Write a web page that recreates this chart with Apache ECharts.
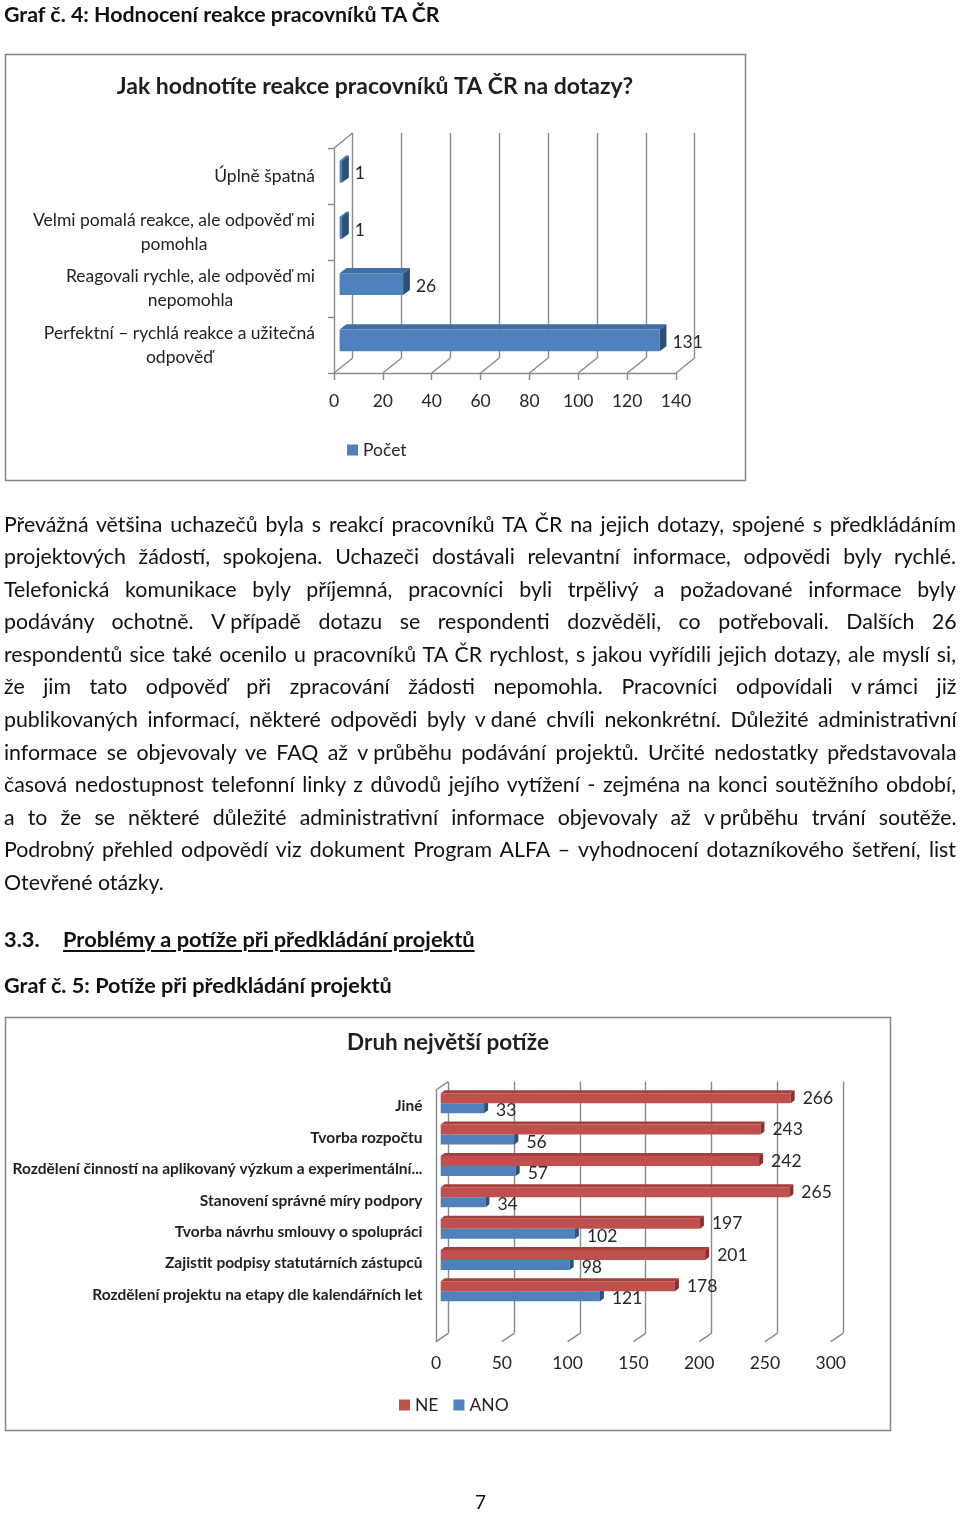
<!DOCTYPE html>
<html><head><meta charset="utf-8">
<script src="https://cdn.jsdelivr.net/npm/echarts@6/dist/echarts.min.js"></script>
<style>
html,body{margin:0;padding:0;background:#fff;}
body{width:960px;height:1513px;position:relative;overflow:hidden;font-family:Lato,"Noto Sans",sans-serif;color:#111;}
#chart{position:absolute;left:0;top:0;width:960px;height:1513px;}
.t{position:absolute;white-space:nowrap;line-height:24px;font-size:19px;}
.b{font-weight:bold;}
.u{text-decoration:underline;text-decoration-thickness:2px;text-underline-offset:3px;}
#para{position:absolute;left:4px;top:507.7px;width:952px;font-size:19px;}
.ln{height:32.55px;line-height:32.55px;white-space:nowrap;}
.nb{word-spacing:0 !important;}
</style>
</head><body>
<div id="chart"></div>
<div class="t b" id="h1" style="left:4px;top:2px;">Graf č. 4: Hodnocení reakce pracovníků TA ČR</div>
<div id="para">
<div class="ln"><span class="s">Převážná většina uchazečů byla s reakcí pracovníků TA ČR na jejich dotazy, spojené s předkládáním</span></div>
<div class="ln"><span class="s">projektových žádostí, spokojena. Uchazeči dostávali relevantní informace, odpovědi byly rychlé.</span></div>
<div class="ln"><span class="s">Telefonická komunikace byly příjemná, pracovníci byli trpělivý a požadované informace byly</span></div>
<div class="ln"><span class="s">podávány ochotně. <span class="nb">V&nbsp;případě</span> dotazu se respondenti dozvěděli, co potřebovali. Dalších 26</span></div>
<div class="ln"><span class="s">respondentů sice také ocenilo u pracovníků TA ČR rychlost, s jakou vyřídili jejich dotazy, ale myslí si,</span></div>
<div class="ln"><span class="s">že jim tato odpověď při zpracování žádosti nepomohla. Pracovníci odpovídali <span class="nb">v&nbsp;rámci</span> již</span></div>
<div class="ln"><span class="s">publikovaných informací, některé odpovědi byly <span class="nb">v&nbsp;dané</span> chvíli nekonkrétní. Důležité administrativní</span></div>
<div class="ln"><span class="s">informace se objevovaly ve FAQ až <span class="nb">v&nbsp;průběhu</span> podávání projektů. Určité nedostatky představovala</span></div>
<div class="ln"><span class="s">časová nedostupnost telefonní linky z důvodů jejího vytížení - zejména na konci soutěžního období,</span></div>
<div class="ln"><span class="s">a to že se některé důležité administrativní informace objevovaly až <span class="nb">v&nbsp;průběhu</span> trvání soutěže.</span></div>
<div class="ln"><span class="s">Podrobný přehled odpovědí viz dokument Program ALFA – vyhodnocení dotazníkového šetření, list</span></div>
<div class="ln"><span class="s" id="lastLine">Otevřené otázky.</span></div>
</div>
<div class="t b" id="h33" style="left:4px;top:927px;">3.3.</div>
<div class="t b u" id="h33t" style="left:63px;top:927px;">Problémy a potíže při předkládání projektů</div>
<div class="t b" id="h5" style="left:4px;top:973px;">Graf č. 5: Potíže při předkládání projektů</div>
<div class="t" style="left:475px;top:1490px;">7</div>
<script>
// ---------------- data ----------------
const chart1Title = 'Jak hodnotíte reakce pracovníků TA ČR na dotazy?';
const chart1Categories = [
  'Perfektní – rychlá reakce a užitečná odpověď',
  'Reagovali rychle, ale odpověď mi nepomohla',
  'Velmi pomalá reakce, ale odpověď mi pomohla',
  'Úplně špatná'
];
const chart1Values = [131, 26, 1, 1];
const chart1Ticks = [0, 20, 40, 60, 80, 100, 120, 140];
const chart1SeriesName = 'Počet';

const chart2Title = 'Druh největší potíže';
const chart2Categories = [
  'Rozdělení projektu na etapy dle kalendářních let',
  'Zajistit podpisy statutárních zástupců',
  'Tvorba návrhu smlouvy o spolupráci',
  'Stanovení správné míry podpory',
  'Rozdělení činností na aplikovaný výzkum a experimentální...',
  'Tvorba rozpočtu',
  'Jiné'
];
const chart2NE = [178, 201, 197, 265, 242, 243, 266];
const chart2ANO = [121, 98, 102, 34, 57, 56, 33];
const chart2Ticks = [0, 50, 100, 150, 200, 250, 300];

// ---------------- text layout ----------------
function fitWidth(el, target) {
  const w = el.getBoundingClientRect().width;
  const fs = parseFloat(getComputedStyle(el).fontSize);
  el.style.fontSize = (fs * target / w) + 'px';
}
fitWidth(document.getElementById('h1'), 436);
fitWidth(document.getElementById('h33t'), 412);
fitWidth(document.getElementById('h5'), 388);
document.getElementById('h33').style.fontSize = document.getElementById('h33t').style.fontSize;
(function () {
  const para = document.getElementById('para');
  const last = document.getElementById('lastLine');
  let fs = 19 * 160 / last.getBoundingClientRect().width;
  para.style.fontSize = fs + 'px';
  const spans = Array.from(para.querySelectorAll('span.s'));
  let maxW = Math.max(...spans.map(s => s.getBoundingClientRect().width));
  if (maxW > 946) { fs = fs * 946 / maxW; para.style.fontSize = fs + 'px'; }
  spans.forEach((s, i) => {
    if (i === spans.length - 1) return;
    const w = s.getBoundingClientRect().width;
    const n = (s.textContent.match(/ /g) || []).length;
    if (n > 0) s.style.wordSpacing = ((952 - w) / n) + 'px';
  });
})();

// ---------------- chart ----------------
const FONT = 'Lato, "Noto Sans", sans-serif';
const GRID_C = '#8a8a8a';
const TXT = '#262626';
const LW = 1.4;

function wrapText(s, maxChars) {
  const words = s.split(' '); const lines = []; let cur = '';
  for (const w of words) {
    const t = cur ? cur + ' ' + w : w;
    if (t.length > maxChars && cur) { lines.push(cur); cur = w; } else cur = t;
  }
  if (cur) lines.push(cur);
  return lines;
}

function frameItem(depth) {
  return function (params, api) {
    const v = api.value(0);
    const p = api.coord([v, 0]);
    const st = { stroke: GRID_C, lineWidth: LW };
    const children = [{ type: 'line', shape: { x1: p[0], y1: p[1], x2: p[0] + depth[0], y2: p[1] + depth[1] }, style: st }];
    if (params.dataIndex === 0) {
      const q = api.coord([v, 1]);
      children.push({ type: 'line', shape: { x1: q[0], y1: q[1], x2: q[0] + depth[0], y2: q[1] + depth[1] }, style: st });
    }
    return { type: 'group', children };
  };
}

function barItem(cfg) {
  return function (params, api) {
    const v = api.value(0), ci = api.value(1);
    const p0 = api.coord([0, ci]);
    const p1 = api.coord([v, ci]);
    const band = api.size([0, 1])[1];
    const h = band * cfg.hRatio;
    const x0 = p0[0] + cfg.front[0], x1 = p1[0] + cfg.front[0];
    const cy = p0[1] + cfg.front[1];
    let yT, yB;
    if (cfg.slot < 0) { yT = cy - h; yB = cy; }
    else if (cfg.slot > 0) { yT = cy; yB = cy + h; }
    else { yT = cy - h / 2; yB = cy + h / 2; }
    const tx = cfg.top[0], ty = cfg.top[1];
    const children = [];
    if (cfg.drawTop) {
      children.push({ type: 'polygon', shape: { points: [[x0, yT], [x1, yT], [x1 + tx, yT + ty], [x0 + tx, yT + ty]] }, style: { fill: cfg.topColor } });
    }
    children.push({ type: 'rect', shape: { x: x0, y: yT, width: x1 - x0, height: yB - yT }, style: { fill: cfg.color } });
    children.push({ type: 'polygon', shape: { points: [[x1, yT], [x1 + tx, yT + ty], [x1 + tx, yB + ty], [x1, yB]] }, style: { fill: cfg.sideColor } });
    children.push({
      type: 'text',
      x: x1 + tx + cfg.labelGap, y: (yT + yB) / 2 + cfg.labelDy,
      style: { text: String(v), fill: TXT, fontSize: cfg.labelSize, fontFamily: FONT, align: 'left', verticalAlign: 'middle', textAlign: 'left', textVerticalAlign: 'middle' }
    });
    return { type: 'group', children };
  };
}

const gridBase = { containLabel: false, outerBoundsMode: 'none' };
const axLine = { show: true, lineStyle: { color: GRID_C, width: LW } };

const option = {
  animation: false,
  backgroundColor: 'transparent',
  graphic: [
    { type: 'rect', shape: { x: 5.5, y: 54.5, width: 740, height: 426 }, style: { fill: 'none', stroke: '#878787', lineWidth: 1.5 } },
    { type: 'rect', shape: { x: 5.5, y: 1017.5, width: 885, height: 413 }, style: { fill: 'none', stroke: '#878787', lineWidth: 1.5 } },
    { type: 'text', x: 375, y: 87, style: { text: chart1Title, fill: '#1f1f1f', fontSize: 23, fontWeight: 'bold', fontFamily: FONT, align: 'center', verticalAlign: 'middle', textAlign: 'center', textVerticalAlign: 'middle' } },
    { type: 'text', x: 448, y: 1043, style: { text: chart2Title, fill: '#1f1f1f', fontSize: 22.5, fontWeight: 'bold', fontFamily: FONT, align: 'center', verticalAlign: 'middle', textAlign: 'center', textVerticalAlign: 'middle' } }
  ],
  legend: [
    { data: [chart1SeriesName], left: 347, top: 441, padding: 0, icon: 'rect', itemWidth: 11, itemHeight: 11, selectedMode: false, textStyle: { fontSize: 17.5, color: TXT, fontFamily: FONT } },
    { data: ['NE', 'ANO'], left: 399, top: 1396, padding: 0, itemGap: 15, icon: 'rect', itemWidth: 11, itemHeight: 11, selectedMode: false, textStyle: { fontSize: 17.5, color: TXT, fontFamily: FONT } }
  ],
  grid: [
    Object.assign({ left: 334, top: 148, width: 342, height: 225 }, gridBase),
    Object.assign({ left: 352.7, top: 133, width: 342, height: 225 }, gridBase),
    Object.assign({ left: 334, top: 148, width: 342, height: 225 }, gridBase),
    Object.assign({ left: 436, top: 1090, width: 394.7, height: 251.7 }, gridBase),
    Object.assign({ left: 448.3, top: 1081.7, width: 394.7, height: 251.7 }, gridBase),
    Object.assign({ left: 436, top: 1090.8, width: 394.7, height: 219.4 }, gridBase)
  ],
  xAxis: [
    { gridIndex: 0, type: 'value', min: chart1Ticks[0], max: chart1Ticks[chart1Ticks.length - 1], interval: chart1Ticks[1] - chart1Ticks[0],
      axisLine: axLine, axisTick: { show: true, length: 7, lineStyle: { color: GRID_C, width: LW } },
      axisLabel: { show: true, margin: 19, fontSize: 17.5, color: TXT, fontFamily: FONT, showMinLabel: true, showMaxLabel: true }, splitLine: { show: false } },
    { gridIndex: 1, type: 'value', min: chart1Ticks[0], max: chart1Ticks[chart1Ticks.length - 1], interval: chart1Ticks[1] - chart1Ticks[0],
      axisLine: { show: false }, axisTick: { show: false }, axisLabel: { show: false }, splitLine: { show: true, lineStyle: { color: GRID_C, width: LW } } },
    { gridIndex: 2, type: 'value', min: chart1Ticks[0], max: chart1Ticks[chart1Ticks.length - 1], show: false },
    { gridIndex: 3, type: 'value', min: chart2Ticks[0], max: chart2Ticks[chart2Ticks.length - 1], interval: chart2Ticks[1] - chart2Ticks[0],
      axisLine: { show: false }, axisTick: { show: false },
      axisLabel: { show: true, margin: 12.5, fontSize: 17.5, color: TXT, fontFamily: FONT, showMinLabel: true, showMaxLabel: true }, splitLine: { show: false } },
    { gridIndex: 4, type: 'value', min: chart2Ticks[0], max: chart2Ticks[chart2Ticks.length - 1], interval: chart2Ticks[1] - chart2Ticks[0],
      axisLine: { show: false }, axisTick: { show: false }, axisLabel: { show: false }, splitLine: { show: true, lineStyle: { color: GRID_C, width: LW } } },
    { gridIndex: 5, type: 'value', min: chart2Ticks[0], max: chart2Ticks[chart2Ticks.length - 1], show: false }
  ],
  yAxis: [
    { gridIndex: 0, type: 'value', min: 0, max: 1, axisLine: axLine, axisTick: { show: false }, axisLabel: { show: false }, splitLine: { show: false } },
    { gridIndex: 1, type: 'value', min: 0, max: 1, show: false },
    { gridIndex: 2, type: 'category', data: chart1Categories, axisLine: { show: false },
      axisTick: { show: true, length: 6, lineStyle: { color: GRID_C, width: LW } }, splitLine: { show: false },
      axisLabel: { interval: 0, margin: 19, align: 'right',
        formatter: v => wrapText(v, 36).map(l => '{c|' + l + '}').join('\n'),
        rich: { c: { align: 'center', fontSize: 17.5, lineHeight: 24, color: '#1f1f1f', fontFamily: FONT } } } },
    { gridIndex: 3, type: 'value', min: 0, max: 1, axisLine: axLine, axisTick: { show: false }, axisLabel: { show: false }, splitLine: { show: false } },
    { gridIndex: 4, type: 'value', min: 0, max: 1, show: false },
    { gridIndex: 5, type: 'category', data: chart2Categories, axisLine: { show: false }, axisTick: { show: false }, splitLine: { show: false },
      axisLabel: { interval: 0, margin: 13.5, fontSize: 15.5, fontWeight: 'bold', color: '#1f1f1f', fontFamily: FONT } }
  ],
  series: [
    { type: 'custom', name: 'frame1', xAxisIndex: 0, yAxisIndex: 0, silent: true, clip: false, z: 1,
      data: chart1Ticks.map(v => [v, 0]), encode: { x: 0, y: 1 }, renderItem: frameItem([18.7, -15]) },
    { type: 'custom', name: chart1SeriesName, xAxisIndex: 2, yAxisIndex: 2, clip: false, z: 3,
      itemStyle: { color: '#4F81BD' },
      data: chart1Values.map((v, i) => [v, i]), encode: { x: 0, y: 1 },
      renderItem: barItem({ front: [5.6, -4.5], top: [6.8, -5.2], hRatio: 0.391, slot: 0, drawTop: true,
        color: '#4F81BD', topColor: '#3F6EA9', sideColor: '#2D5078', labelGap: 6, labelDy: 2, labelSize: 17.5 }) },
    { type: 'custom', name: 'frame2', xAxisIndex: 3, yAxisIndex: 3, silent: true, clip: false, z: 1,
      data: chart2Ticks.map(v => [v, 0]), encode: { x: 0, y: 1 }, renderItem: frameItem([12.3, -8.3]) },
    { type: 'custom', name: 'ANO', xAxisIndex: 5, yAxisIndex: 5, clip: false, z: 3,
      itemStyle: { color: '#4F81BD' },
      data: chart2ANO.map((v, i) => [v, i]), encode: { x: 0, y: 1 },
      renderItem: barItem({ front: [4.7, -3.2], top: [4, -3], hRatio: 0.319, slot: 1, drawTop: false,
        color: '#4F81BD', topColor: '#3F6EA9', sideColor: '#2D5078', labelGap: 8, labelDy: 2.5, labelSize: 17.5 }) },
    { type: 'custom', name: 'NE', xAxisIndex: 5, yAxisIndex: 5, clip: false, z: 4,
      itemStyle: { color: '#C0504D' },
      data: chart2NE.map((v, i) => [v, i]), encode: { x: 0, y: 1 },
      renderItem: barItem({ front: [4.7, -3.2], top: [4, -3], hRatio: 0.319, slot: -1, drawTop: true,
        color: '#C0504D', topColor: '#A33F3C', sideColor: '#8A2E2B', labelGap: 8, labelDy: 0, labelSize: 17.5 }) }
  ]
};

const chart = echarts.init(document.getElementById('chart'), null, { renderer: 'canvas' });
chart.setOption(option);
</script>
</body></html>
